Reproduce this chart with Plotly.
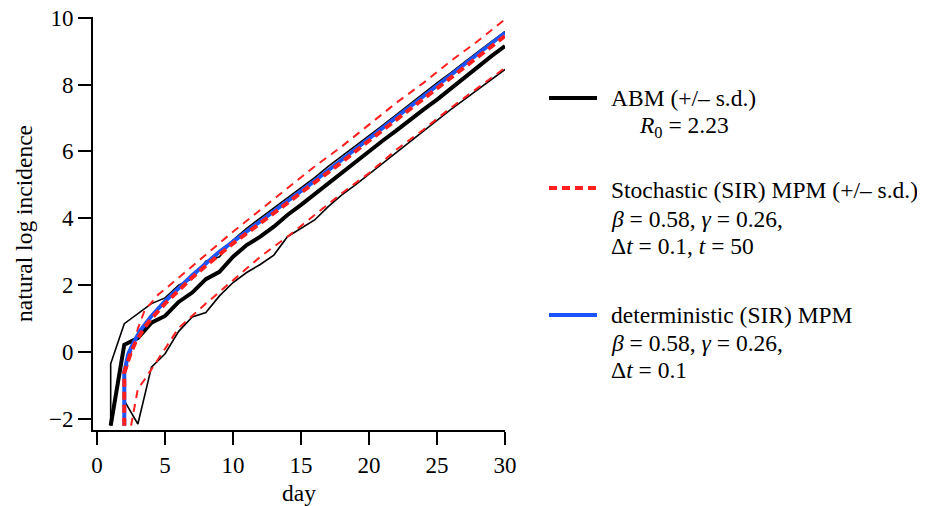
import plotly.graph_objects as go

# ---------------- data ----------------
abm_days = list(range(1, 31))
abm_mean = [-2.2, 0.22, 0.42, 0.88, 1.08, 1.5, 1.78, 2.18, 2.4, 2.85,
            3.2, 3.45, 3.75, 4.1, 4.4, 4.72, 5.05, 5.38, 5.68, 6.0,
            6.32, 6.62, 6.95, 7.25, 7.55, 7.88, 8.2, 8.52, 8.85, 9.15]

abm_upper_days = [1] + list(range(1, 31))
abm_upper = [-2.2, -0.35, 0.85, 1.15, 1.45, 1.62, 2.0, 2.2, 2.72, 2.85, 3.35,
             3.7, 4.0, 4.3, 4.62, 4.92, 5.22, 5.55, 5.85, 6.15, 6.47,
             6.78, 7.1, 7.42, 7.72, 8.05, 8.35, 8.67, 8.98, 9.28, 9.58]

abm_lower_days = list(range(2, 31))
abm_lower = [-1.45, -2.15, -0.45, -0.05, 0.62, 1.05, 1.18, 1.68, 2.08,
             2.38, 2.62, 2.9, 3.45, 3.7, 3.95, 4.35, 4.7, 5.0, 5.32,
             5.65, 5.97, 6.3, 6.6, 6.92, 7.25, 7.55, 7.85, 8.15, 8.45]

det_days = [2.0, 2.0, 2.3, 2.7, 3.2, 4, 5, 6, 7, 8, 9, 10, 12, 14, 16,
            18, 20, 22, 24, 26, 28, 30]
det_val = [-2.2, -0.6, -0.05, 0.3, 0.66, 1.08, 1.52, 1.93, 2.3, 2.65, 3.0,
           3.3, 3.9, 4.5, 5.12, 5.75, 6.4, 7.02, 7.65, 8.28, 8.9, 9.55]

stoch_days = [2.0, 2.0, 2.5, 2.8, 3.5, 4, 5, 6, 7, 8, 9, 10, 12, 14, 16,
              18, 20, 22, 24, 26, 28, 30]
stoch_mean = [-2.2, -0.6, 0.0, 0.27, 0.75, 1.0, 1.45, 1.86, 2.23, 2.58,
              2.93, 3.25, 3.85, 4.45, 5.06, 5.68, 6.32, 6.94, 7.57, 8.2,
              8.82, 9.45]

stoch_upper_days = [2.1, 2.5, 3, 3.5, 4, 4.5, 5, 6, 7, 8, 9, 10, 12, 14,
                    16, 18, 20, 22, 24, 26, 28, 30]
stoch_upper = [-0.6, 0.0, 0.7, 1.25, 1.5, 1.72, 1.88, 2.22, 2.56, 2.9,
               3.25, 3.6, 4.25, 4.9, 5.55, 6.15, 6.8, 7.45, 8.05, 8.7,
               9.3, 9.95]

stoch_lower_days = [2.5, 3, 3.5, 4, 5, 6, 7, 8, 9, 10, 12, 14, 16, 18,
                    20, 22, 24, 26, 28, 30]
stoch_lower = [-2.2, -1.1, -0.82, -0.5, 0.1, 0.72, 1.1, 1.45, 1.8, 2.15,
               2.85, 3.45, 4.1, 4.75, 5.35, 6.05, 6.65, 7.3, 7.9, 8.5]

x_ticks = [0, 5, 10, 15, 20, 25, 30]
y_ticks = [-2, 0, 2, 4, 6, 8, 10]

RED = "#ff1f1f"
BLUE = "#1c55ff"
FONT = "Liberation Serif"

fig = go.Figure()
# thin s.d. lines
fig.add_trace(go.Scatter(x=abm_upper_days, y=abm_upper, mode="lines",
                         line=dict(color="black", width=1.6), showlegend=False))
fig.add_trace(go.Scatter(x=abm_lower_days, y=abm_lower, mode="lines",
                         line=dict(color="black", width=1.6), showlegend=False))
fig.add_trace(go.Scatter(x=stoch_upper_days, y=stoch_upper, mode="lines",
                         line=dict(color=RED, width=2, dash="8px,6px"), showlegend=False))
fig.add_trace(go.Scatter(x=stoch_lower_days, y=stoch_lower, mode="lines",
                         line=dict(color=RED, width=2, dash="8px,6px"), showlegend=False))
# means
fig.add_trace(go.Scatter(x=abm_days, y=abm_mean, mode="lines",
                         line=dict(color="black", width=4), showlegend=False))
fig.add_trace(go.Scatter(x=det_days, y=det_val, mode="lines",
                         line=dict(color=BLUE, width=4), showlegend=False))
fig.add_trace(go.Scatter(x=stoch_days, y=stoch_mean, mode="lines",
                         line=dict(color=RED, width=4, dash="8px,5px"), showlegend=False))

# ---------------- layout geometry ----------------
# The page body has an 8px margin, so the figure is made 8px smaller
# and its margins shifted so the plot lands where the reference has it.
OFF = 8
W, H = 925 - OFF, 506 - OFF
PX0, PX1, PY0, PY1 = 93, 505, 17, 430     # plot area in page pixels
L, T = PX0 - OFF, PY0 - OFF
R, B = W - (PX1 - OFF), H - (PY1 - OFF)
pw, ph = PX1 - PX0, PY1 - PY0


def px(xp):
    return (xp - PX0) / pw


def py(yp):
    return (PY1 - yp) / ph


swatches = [(98, "black", "solid"), (188, RED, "8px,5px"), (315, BLUE, "solid")]
for yy, col, dash in swatches:
    fig.add_shape(type="line", xref="paper", yref="paper",
                  x0=px(549), x1=px(597), y0=py(yy), y1=py(yy),
                  line=dict(color=col, width=4, dash=dash))

legend_lines = [
    (609, 98, "ABM (+/– s.d.)"),
    (637, 127, "<i>R</i><sub>0</sub> = 2.23"),
    (609, 190, "Stochastic (SIR) MPM (+/– s.d.)"),
    (609, 219, "<i>β</i> = 0.58, <i>γ</i> = 0.26,"),
    (609, 246, "Δ<i>t</i> = 0.1, <i>t</i> = 50"),
    (609, 315, "deterministic (SIR) MPM"),
    (609, 343, "<i>β</i> = 0.58, <i>γ</i> = 0.26,"),
    (609, 370, "Δ<i>t</i> = 0.1"),
]
for xx, yy, txt in legend_lines:
    fig.add_annotation(text=txt, xref="paper", yref="paper", x=px(xx), y=py(yy),
                       xanchor="left", yanchor="middle", showarrow=False,
                       font=dict(family=FONT, size=23.5, color="black"))

axis_common = dict(showgrid=False, zeroline=False, showline=True, linecolor="black",
                   linewidth=2, ticks="outside", ticklen=13, tickwidth=2,
                   tickcolor="black", automargin=False, ticklabeloverflow="allow",
                   tickfont=dict(family=FONT, size=23, color="black"))

fig.update_layout(
    width=W, height=H,
    margin=dict(l=L, r=R, t=T, b=B, pad=0, autoexpand=False),
    paper_bgcolor="white", plot_bgcolor="white",
    font=dict(family=FONT, size=23, color="black"),
    xaxis=dict(range=[-0.3, 30], tickvals=x_ticks,
               title=dict(text="day", font=dict(family=FONT, size=23.5), standoff=10),
               **axis_common),
    yaxis=dict(range=[-2.33, 10.02], tickvals=y_ticks,
               tickformat="d",
               title=dict(text="natural log incidence", font=dict(family=FONT, size=23.5), standoff=10),
               **axis_common),
    showlegend=False,
)

fig.write_html("out.html")
